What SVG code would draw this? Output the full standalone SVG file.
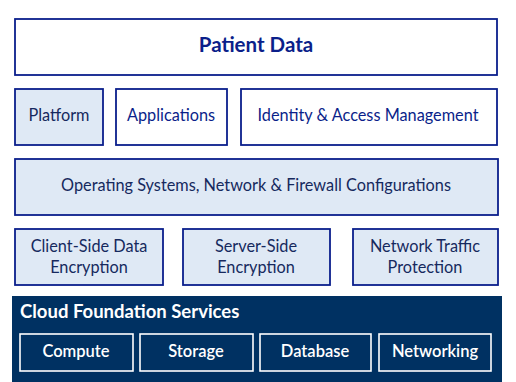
<svg xmlns="http://www.w3.org/2000/svg" width="516" height="382" viewBox="0 0 516 382">
<style>
.b{stroke:#0a1f8c;stroke-width:1.8;fill:#fff}
.l{stroke:#0a1f8c;stroke-width:1.8;fill:#dfe9f5}
.t{font-family:Lato,"Open Sans",sans-serif;font-size:16.3px;fill:#0b1f8a;text-anchor:middle}
.d{font-family:Lato,"Open Sans",sans-serif;font-size:16.3px;fill:#16295e;text-anchor:middle}
.w{stroke:#fff;stroke-width:1.6;fill:none}
.wt{font-family:Lato,"Open Sans",sans-serif;font-size:16.5px;fill:#fff;text-anchor:middle;font-weight:600}
</style>
<g id="patient-data"><rect class="b" x="15" y="19" width="482" height="56"/><text class="t" x="256" y="52" style="font-size:20.5px;font-weight:bold">Patient Data</text></g>
<g id="platform"><rect class="l" x="15" y="89" width="88" height="56"/><text class="d" x="59" y="121">Platform</text></g>
<g id="applications"><rect class="b" x="116" y="89" width="111" height="56"/><text class="t" x="171" y="121">Applications</text></g>
<g id="iam"><rect class="b" x="241" y="89" width="256" height="56"/><text class="t" x="368" y="121">Identity &amp; Access Management</text></g>
<g id="os"><rect class="l" x="15" y="159" width="483" height="56"/><text class="d" x="256" y="191">Operating Systems, Network &amp; Firewall Configurations</text></g>
<g id="client"><rect class="l" x="15" y="229" width="148" height="56"/><text class="d" x="89" y="252">Client-Side Data</text><text class="d" x="89" y="273">Encryption</text></g>
<g id="server"><rect class="l" x="183" y="229" width="147" height="56"/><text class="d" x="256" y="252">Server-Side</text><text class="d" x="256" y="273">Encryption</text></g>
<g id="network-traffic"><rect class="l" x="353" y="229" width="145" height="56"/><text class="d" x="425" y="252">Network Traffic</text><text class="d" x="425" y="273">Protection</text></g>
<g id="cloud"><rect x="12" y="296" width="490" height="86" fill="#003162"/><text x="20" y="318" style="font-family:Lato,'Open Sans',sans-serif;font-size:18.5px;font-weight:bold;fill:#fff">Cloud Foundation Services</text></g>
<g id="compute"><rect class="w" x="20" y="334" width="113" height="37"/><text class="wt" x="76" y="357">Compute</text></g>
<g id="storage"><rect class="w" x="140" y="334" width="113" height="37"/><text class="wt" x="196" y="357">Storage</text></g>
<g id="database"><rect class="w" x="260" y="334" width="111" height="37"/><text class="wt" x="315" y="357">Database</text></g>
<g id="networking"><rect class="w" x="379" y="334" width="112" height="37"/><text class="wt" x="435" y="357">Networking</text></g>
<g id="connectors"/>
</svg>
